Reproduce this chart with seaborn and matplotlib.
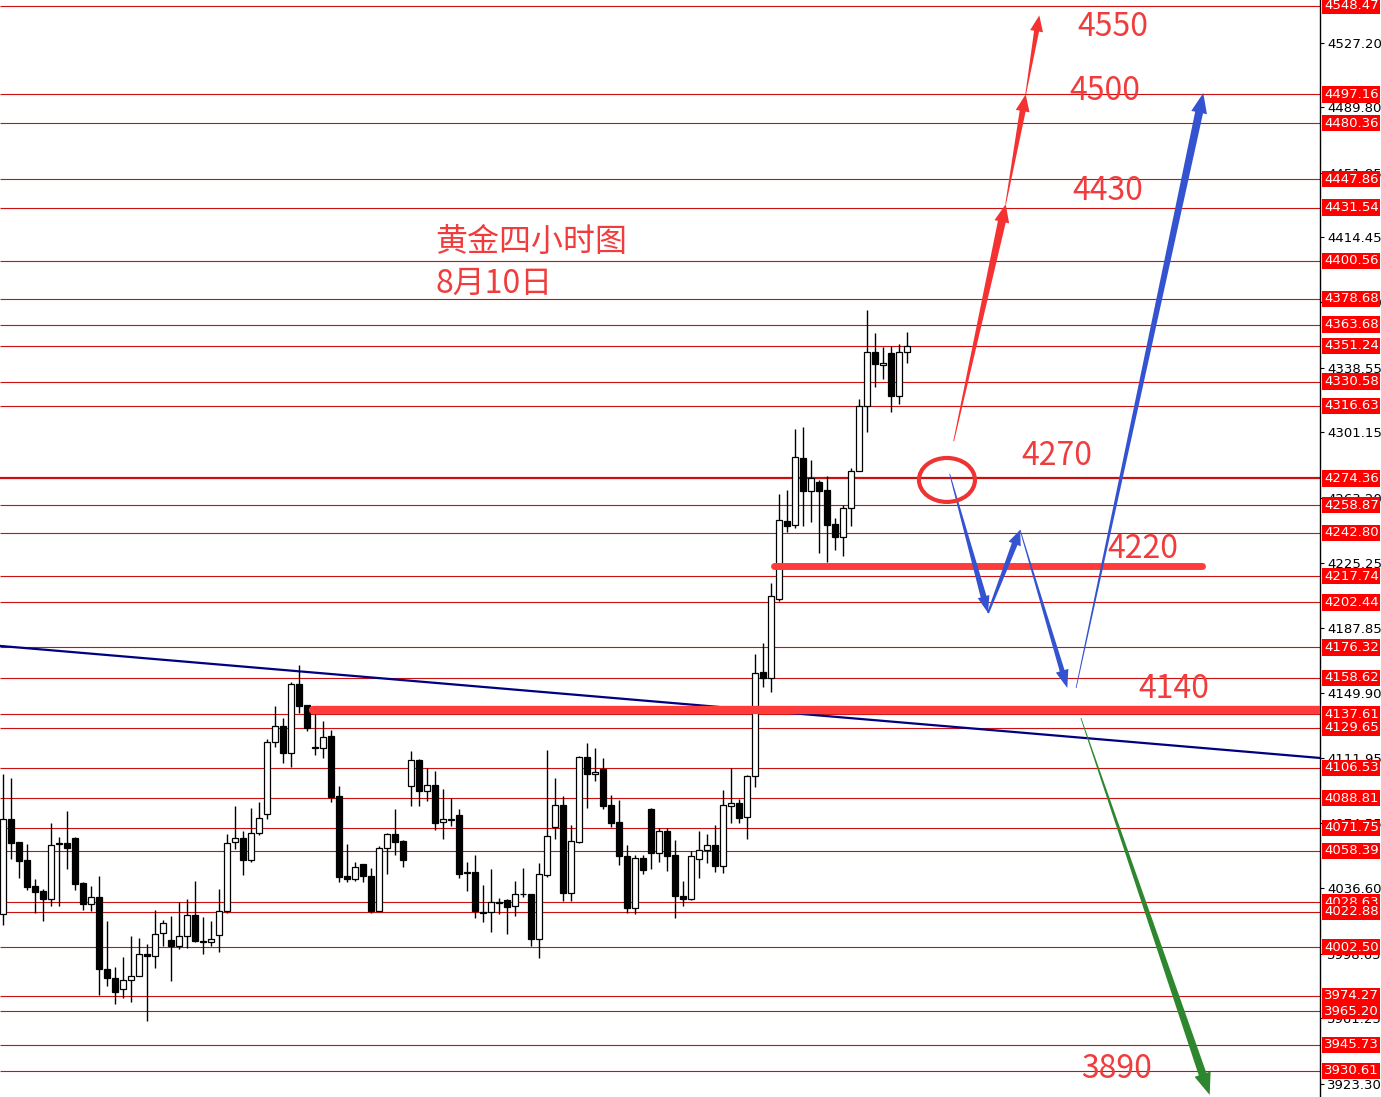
import numpy as np
import matplotlib
matplotlib.use("Agg")
import matplotlib.pyplot as plt
from matplotlib.patches import Polygon, Ellipse
import seaborn as sns

# 4H gold candles
opens = [4021.8, 4076.9, 4063.2, 4052.8, 4037.7, 4034.8, 4030.5, 4062.4, 4062.6, 4065.5,
         4039.4, 4027.6, 4031.7, 3989.9, 3984.7, 3978.3, 3983.5, 3985.8, 3998.6, 3997.4,
         4010.8, 4006.7, 4003.0, 4009.0, 4021.2, 4006.1, 4005.2, 4009.6, 4023.5, 4063.6,
         4065.9, 4053.1, 4068.6, 4079.6, 4121.4, 4130.9, 4115.0, 4155.0, 4142.7, 4118.3,
         4118.1, 4124.7, 4089.9, 4043.5, 4042.0, 4050.4, 4043.9, 4023.4, 4060.1, 4067.8,
         4063.8, 4096.1, 4110.8, 4093.0, 4096.7, 4074.9, 4076.4, 4079.1, 4045.5, 4045.9,
         4022.7, 4022.7, 4028.3, 4029.8, 4026.5, 4033.1, 4033.3, 4007.2, 4044.3, 4072.0,
         4084.9, 4033.7, 4063.7, 4113.0, 4102.7, 4105.8, 4084.9, 4074.9, 4055.3, 4025.4,
         4054.4, 4082.6, 4056.9, 4069.9, 4055.9, 4032.3, 4030.3, 4053.5, 4059.0, 4061.8,
         4049.3, 4084.3, 4086.2, 4077.9, 4101.5, 4161.9, 4158.4, 4204.3, 4249.7, 4247.4,
         4286.0, 4267.3, 4272.3, 4267.7, 4247.8, 4240.6, 4257.0, 4278.9, 4316.4, 4347.9,
         4340.0, 4347.0, 4322.4, 4347.5]
highs = [4103.0, 4100.5, 4063.5, 4062.0, 4042.1, 4036.3, 4074.4, 4066.3, 4081.2, 4066.3,
         4040.4, 4037.7, 4043.5, 4017.4, 3990.9, 3996.7, 4008.7, 4007.7, 4004.0, 4024.1,
         4018.3, 4020.8, 4028.6, 4030.5, 4041.1, 4019.7, 4017.9, 4036.1, 4067.8, 4084.1,
         4069.8, 4083.3, 4086.8, 4123.4, 4142.1, 4135.2, 4156.0, 4165.9, 4142.7, 4137.8,
         4133.4, 4128.2, 4095.9, 4062.4, 4051.8, 4050.8, 4048.5, 4060.9, 4068.8, 4082.3,
         4064.7, 4116.0, 4111.5, 4106.3, 4104.4, 4094.0, 4089.2, 4082.6, 4052.1, 4055.9,
         4038.5, 4047.6, 4030.8, 4030.4, 4040.8, 4048.4, 4033.3, 4051.1, 4116.8, 4100.4,
         4090.2, 4073.3, 4113.4, 4121.1, 4118.0, 4112.0, 4090.7, 4087.8, 4061.7, 4055.9,
         4055.9, 4083.0, 4071.4, 4071.8, 4064.6, 4041.1, 4058.2, 4069.6, 4067.8, 4073.1,
         4093.8, 4106.3, 4088.5, 4102.5, 4172.7, 4179.0, 4213.6, 4265.4, 4267.7, 4303.1,
         4304.2, 4285.1, 4273.5, 4275.8, 4251.2, 4259.0, 4280.3, 4320.3, 4372.1, 4358.6,
         4350.4, 4351.2, 4352.4, 4359.5]
lows = [4015.0, 4053.7, 4042.5, 4035.4, 4022.2, 4017.5, 4026.3, 4026.6, 4047.7, 4035.4,
        4024.1, 4023.4, 3974.4, 3979.9, 3969.6, 3972.9, 3970.6, 3985.5, 3959.5, 3990.3,
        4002.9, 3982.7, 4001.3, 4002.1, 4005.4, 3998.6, 4002.9, 3999.6, 4022.2, 4059.1,
        4044.4, 4052.1, 4067.6, 4076.9, 4118.5, 4109.2, 4106.9, 4138.2, 4127.8, 4113.7,
        4112.3, 4086.6, 4040.2, 4040.2, 4040.7, 4040.2, 4022.2, 4023.4, 4045.0, 4056.0,
        4048.9, 4084.1, 4084.1, 4087.2, 4070.5, 4065.0, 4072.8, 4042.8, 4035.0, 4019.6,
        4017.3, 4011.5, 4021.7, 4010.3, 4020.7, 4031.8, 4003.1, 3996.4, 4043.0, 4065.0,
        4029.2, 4029.2, 4063.1, 4083.4, 4098.9, 4082.4, 4072.4, 4050.1, 4022.1, 4021.5,
        4044.7, 4047.6, 4052.1, 4046.8, 4019.6, 4026.6, 4029.9, 4042.5, 4051.2, 4046.0,
        4045.4, 4074.4, 4074.4, 4064.9, 4095.3, 4153.2, 4150.3, 4203.5, 4243.1, 4245.8,
        4247.0, 4249.3, 4230.9, 4226.1, 4232.9, 4229.4, 4246.8, 4278.5, 4301.5, 4327.6,
        4331.9, 4313.1, 4317.6, 4341.5]
closes = [4076.9, 4063.0, 4052.4, 4037.3, 4034.4, 4030.3, 4061.8, 4062.8, 4059.9, 4039.0,
          4027.4, 4031.7, 3989.7, 3984.7, 3976.4, 3983.5, 3985.8, 3998.6, 3997.4, 4010.2,
          4016.6, 4003.0, 4009.0, 4021.2, 4005.9, 4005.2, 4007.3, 4023.5, 4063.0, 4065.9,
          4053.1, 4068.8, 4077.5, 4121.4, 4130.9, 4115.0, 4155.0, 4142.3, 4129.7, 4117.9,
          4124.5, 4089.5, 4043.1, 4041.9, 4049.1, 4043.9, 4023.4, 4060.1, 4067.8, 4063.6,
          4053.1, 4110.8, 4093.0, 4096.6, 4074.4, 4076.5, 4076.8, 4044.9, 4045.9, 4023.3,
          4022.5, 4028.5, 4028.7, 4025.9, 4033.3, 4033.5, 4007.2, 4044.7, 4067.0, 4084.9,
          4033.7, 4064.0, 4113.0, 4102.7, 4104.1, 4084.5, 4074.7, 4055.5, 4025.4, 4054.4,
          4047.0, 4056.9, 4069.9, 4055.5, 4032.3, 4030.3, 4055.5, 4059.0, 4061.8, 4049.3,
          4084.7, 4086.2, 4077.3, 4101.5, 4161.6, 4158.4, 4206.2, 4250.3, 4247.0, 4286.8,
          4267.3, 4274.4, 4267.3, 4247.4, 4240.6, 4257.0, 4278.9, 4316.4, 4347.9, 4340.6,
          4341.4, 4322.4, 4347.5, 4351.2]

# red horizontal levels with boxed labels on the price axis
levels = [4548.47, 4497.16, 4480.36, 4447.86, 4431.54, 4400.56, 4378.68, 4363.68, 4351.24,
          4330.58, 4316.63, 4274.36, 4258.87, 4242.80, 4217.74, 4202.44, 4176.32, 4158.62,
          4137.61, 4129.65, 4106.53, 4088.81, 4071.75, 4058.39, 4028.63, 4022.88, 4002.50,
          3974.27, 3965.20, 3945.73, 3930.61]

# plain price scale ticks
price_ticks = [4527.20, 4489.80, 4451.85, 4414.45, 4376.50, 4338.55, 4301.15, 4263.20,
               4225.25, 4187.85, 4149.90, 4111.95, 4074.55, 4036.60, 3998.65, 3961.25, 3923.30]

# trend line end prices
trend_prices = [4177.2, 4112.2]

# target labels
targets = ["4550", "4500", "4430", "4270", "4220", "4140", "3890"]

sns.set_theme(style="white")
plt.rcParams['font.family'] = ['Noto Sans CJK SC', 'DejaVu Sans']

W, H = 1381, 1097
fig = plt.figure(figsize=(W / 100, H / 100), dpi=100)
ax = fig.add_axes([0, 0, 1320 / W, 1])

X_MIN, X_MAX = -0.4125, 164.59
Y_MIN, Y_MAX = 3915.5, 4551.95
ax.set_xlim(X_MIN, X_MAX)
ax.set_ylim(Y_MIN, Y_MAX)

o = np.array(opens); c = np.array(closes)
hi = np.array(highs); lo = np.array(lows)
idx = np.arange(len(o))

# levels
lw_lv = [1.6 if lv == 4274.36 else 0.8 for lv in levels]
ax.hlines(levels, X_MIN, X_MAX, colors='#cc1010', linewidths=lw_lv, zorder=1)

# trend line
sns.lineplot(x=[X_MIN, X_MAX], y=trend_prices, ax=ax, color='#000080', lw=1.6, zorder=2)

# candles
ax.vlines(idx, lo, hi, color='black', lw=1, zorder=3)
bull = c >= o
body_bottom = np.minimum(o, c)
body_h = np.maximum(np.abs(c - o), 0.3)
ax.bar(idx, body_h, bottom=body_bottom, width=0.7,
       color=np.where(bull, 'white', 'black'), edgecolor='black', lw=0.9, zorder=4)

# thick support lines
ax.plot([38.7, 175], [4140.0, 4140.0], color='#ff3c3c', lw=6, solid_capstyle='round', zorder=5)
ax.plot([96.4, 149.9], [4223.6, 4223.6], color='#ff3c3c', lw=5, solid_capstyle='round', zorder=5)

# circle
ax.add_patch(Ellipse((117.96, 4273.5), 7.0, 25.5, fill=False, ec='#ee3333', lw=3, zorder=7))


def taper_arrow(x0, y0, x1, y1, color, w0, w1, hw, hl):
    T = ax.transData
    a = T.transform((x0, y0)); b = T.transform((x1, y1))
    d = b - a
    u = d / np.hypot(*d)
    n = np.array([-u[1], u[0]])
    base = b - u * hl
    pts = [a + n * w0 / 2, base + n * w1 / 2, base + n * hw / 2, b,
           base - n * hw / 2, base - n * w1 / 2, a - n * w0 / 2]
    pts = T.inverted().transform(np.array(pts))
    ax.add_patch(Polygon(pts, closed=True, fc=color, ec='none', zorder=6))


red, blue, green = '#f53232', '#3453d1', '#2e872e'
# up path
taper_arrow(118.8, 4296.0, 125.3, 4433.5, red, 0.8, 8, 15, 18)
taper_arrow(125.3, 4433.5, 127.8, 4497.2, red, 0.8, 6, 14, 17)
taper_arrow(127.8, 4497.2, 129.5, 4543.0, red, 0.8, 5, 13, 16)
# pull back path
taper_arrow(118.3, 4277.0, 123.1, 4196.3, blue, 0.8, 6, 12, 17)
taper_arrow(123.1, 4196.3, 127.1, 4244.5, blue, 2.0, 6, 13, 15)
taper_arrow(127.1, 4244.5, 133.0, 4152.8, blue, 0.8, 5, 13, 18)
taper_arrow(134.1, 4152.8, 150.0, 4498.0, blue, 0.8, 8, 16, 20)
# break down
taper_arrow(134.7, 4135.4, 150.8, 3916.7, green, 0.8, 8, 17, 22)

# texts
txt_kw = dict(color='#f03c3c', fontsize=23, ha='center', va='center', zorder=8)
for label, (tx, ty) in zip(targets, [(138.7, 4536.0), (137.7, 4499.0), (138.1, 4441.0),
                                    (131.7, 4287.5), (142.5, 4233.5), (146.3, 4152.5),
                                    (139.2, 3931.5)]):
    ax.text(tx, ty, label, **txt_kw)
ax.text(53.97, 4411.6, "黄金四小时图", color='#f03c3c', fontsize=23, ha='left', va='center', zorder=8)
ax.text(53.97, 4387.2, "8月10日", color='#f03c3c', fontsize=23, ha='left', va='center', zorder=8)

# price axis on the right
for s in ['top', 'left', 'bottom']:
    ax.spines[s].set_visible(False)
ax.spines['right'].set_color('black')
ax.spines['right'].set_linewidth(1)
ax.set_xticks([])
ax.yaxis.tick_right()
ax.set_yticks(price_ticks)
ax.set_yticklabels([f"{t:.2f}" for t in price_ticks], family='DejaVu Sans')
ax.tick_params(axis='y', right=True, length=3, width=0.8, color='black',
               labelsize=9.5, pad=2, labelcolor='black')
ax.grid(False)

ytr = ax.get_yaxis_transform()
for lv in levels:
    ax.text(1 + 4 / 1320, lv, f"{lv:.2f}", transform=ytr, ha='left', va='center',
            color='white', fontsize=9.5, family='DejaVu Sans', clip_on=False, zorder=9,
            bbox=dict(boxstyle='square,pad=0.12', fc='#ff0000', ec='none'))

fig.savefig('out.png', dpi=100, facecolor='white')
